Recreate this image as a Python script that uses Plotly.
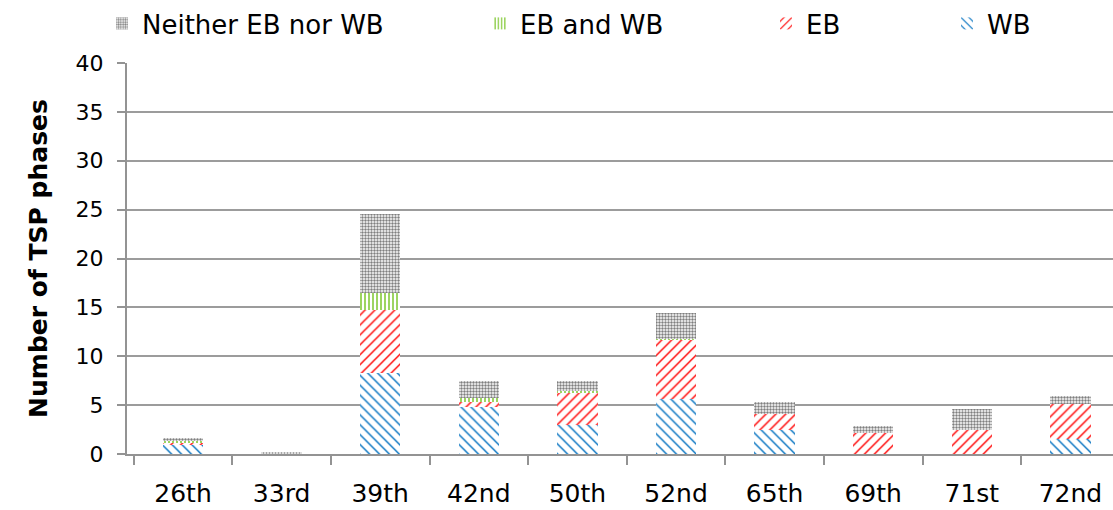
import plotly.graph_objects as go

categories = ["26th", "33rd", "39th", "42nd", "50th", "52nd", "65th", "69th", "71st", "72nd"]
wb = [1.0, 0.0, 8.3, 4.8, 3.0, 5.6, 2.5, 0.0, 0.0, 1.5]
eb = [0.2, 0.0, 6.4, 0.5, 3.2, 6.1, 1.55, 2.2, 2.5, 3.6]
eb_and_wb = [0.15, 0.0, 1.8, 0.4, 0.25, 0.1, 0.0, 0.0, 0.0, 0.0]
neither = [0.25, 0.25, 8.1, 1.8, 1.05, 2.6, 1.3, 0.7, 2.1, 0.8]

W, H = 1113, 510
series = [
    ("WB", wb, "#0070C0", "\\", 7, 0.2, "legend5", 947),
    ("EB", eb, "#FF0000", "/", 7, 0.2, "legend4", 766),
    ("EB and WB", eb_and_wb, "#92D050", "|", 4, 0.45, "legend3", 480),
    ("Neither EB nor WB", neither, "#7F7F7F", ".", 3, 0.5, "legend2", 102),
]

FONT = "DejaVu Sans, Verdana, sans-serif"

fig = go.Figure()
legends = {}
for name, vals, color, shape, size, sol, leg, lx in series:
    fig.add_trace(go.Bar(
        x=categories, y=vals, name=name, legend=leg,
        marker=dict(color="white", line=dict(width=0),
                    pattern=dict(shape=shape, fgcolor=color, bgcolor="white",
                                 size=size, solidity=sol, fgopacity=1, fillmode="overlay")),
    ))
    legends[leg] = dict(orientation="h", x=lx / W, xanchor="left", xref="container",
                        y=1.0, yanchor="top", yref="container",
                        font=dict(family=FONT, size=26, color="black"),
                        bgcolor="rgba(0,0,0,0)", itemwidth=30)

fig.update_layout(
    barmode="stack",
    bargap=0.59,
    width=W, height=H,
    margin=dict(l=127, r=0, t=63, b=56),
    plot_bgcolor="white", paper_bgcolor="white",
    font=dict(family=FONT, size=22, color="black"),
    xaxis=dict(range=[-0.568, 9.432], showline=True, linecolor="#939393", linewidth=2,
               automargin=False,
               ticks="outside", tickson="boundaries", ticklen=9, tickcolor="#939393", tickwidth=2,
               tickfont=dict(size=25), ticklabelstandoff=16),
    yaxis=dict(range=[0, 40], dtick=5, showline=True, linecolor="#939393", linewidth=2,
               automargin=False,
               ticks="outside", ticklen=8, tickcolor="#939393", tickwidth=2,
               showgrid=True, gridcolor="#9C9C9C", gridwidth=2, zeroline=False,
               tickfont=dict(size=22), ticklabelstandoff=9,
               title=dict(text="<b>Number of TSP phases</b>", font=dict(size=25), standoff=21)),
    **legends,
)

fig.write_html("out.html", config={"displayModeBar": False},
               post_script="document.body.style.margin='0';")
